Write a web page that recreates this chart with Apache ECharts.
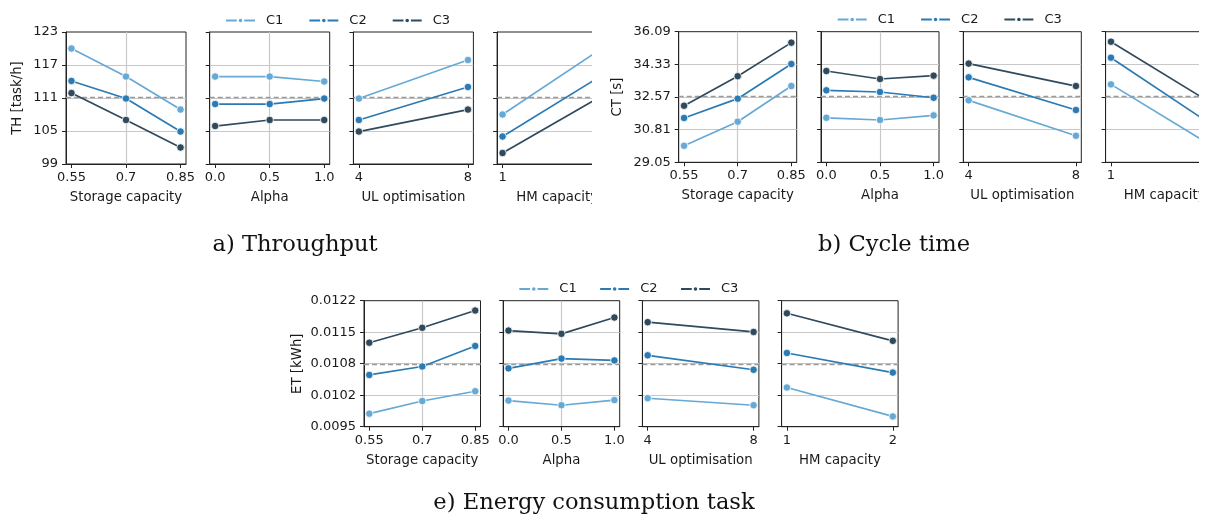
<!DOCTYPE html>
<html>
<head>
<meta charset="utf-8">
<title>Sensitivity plots</title>
<script src="https://cdn.jsdelivr.net/npm/echarts@6/dist/echarts.min.js"></script>
<style>
    body { margin: 0; background: #fff; }
    .wrap { position: absolute; overflow: hidden; }
</style>
</head>
<body>
<div class="wrap" style="left:0;top:0;width:592px;height:262px"><div id="chartA" style="width:660px;height:262px"></div></div>
<div class="wrap" style="left:600px;top:0;width:599px;height:262px"><div id="chartB" style="width:660px;height:262px"></div></div>
<div class="wrap" style="left:0;top:262px;width:1208px;height:261px"><div id="chartE" style="width:1208px;height:261px"></div></div>
<script>
// 因子及其取值
var factorNames = ['Storage capacity', 'Alpha', 'UL optimisation', 'HM capacity'];
var factorLevels = [[0.55, 0.7, 0.85], [0.0, 0.5, 1.0], [4, 8], [1, 2]];
var factorLabels = [['0.55', '0.7', '0.85'], ['0.0', '0.5', '1.0'], ['4', '8'], ['1', '2']];
var configNames = ['C1', 'C2', 'C3'];

// 吞吐量 TH (每个因子一组)
var thC1 = [[120.0, 114.9, 108.9], [114.9, 114.9, 114.0], [110.9, 117.9], [108.0, 121.2]];
var thC2 = [[114.1, 110.9, 104.9], [109.9, 109.9, 110.9], [107.0, 113.0], [104.0, 116.2]];
var thC3 = [[111.9, 107.0, 102.0], [105.9, 107.0, 107.0], [104.9, 108.9], [101.0, 112.4]];
var thTicks = [99, 105, 111, 117, 123];
var thTickLabels = ['99', '105', '111', '117', '123'];
var thRef = 111.1;

// 周期时间 CT
var ctC1 = [[29.94, 31.24, 33.16], [31.45, 31.33, 31.58], [32.39, 30.48], [33.25, 29.73]];
var ctC2 = [[31.44, 32.48, 34.35], [32.93, 32.84, 32.53], [33.63, 31.87], [34.69, 30.84]];
var ctC3 = [[32.10, 33.69, 35.50], [33.97, 33.54, 33.72], [34.37, 33.16], [35.55, 32.01]];
var ctTicks = [29.05, 30.81, 32.57, 34.33, 36.09];
var ctTickLabels = ['29.05', '30.81', '32.57', '34.33', '36.09'];
var ctRef = 32.63;

// 能耗 ET
var etC1 = [[0.00978, 0.01005, 0.01026], [0.01006, 0.00996, 0.01007], [0.01011, 0.00996], [0.01034, 0.00972]];
var etC2 = [[0.01061, 0.01079, 0.01123], [0.01075, 0.01096, 0.01092], [0.01103, 0.01072], [0.01108, 0.01066]];
var etC3 = [[0.01130, 0.01162, 0.01199], [0.01156, 0.01149, 0.01184], [0.01174, 0.01153], [0.01193, 0.01134]];
var etTicks = [0.0095, 0.010175, 0.01085, 0.011525, 0.0122];
var etTickLabels = ['0.0095', '0.0102', '0.0108', '0.0115', '0.0122'];
var etRef = 0.01084;

var colors = ['#67a9d5', '#2a7ab3', '#2f4a5d'];
var fontSans = 'DejaVu Sans';
var txt = '#1a1a1a';

function findLabel(list, labels, v) {
    for (var i = 0; i < list.length; i++) {
        if (Math.abs(list[i] - v) < 1e-9) return labels[i];
    }
    return '';
}

function buildOption(p) {
    var grids = [], xAxes = [], yAxes = [], series = [];
    for (var f = 0; f < 4; f++) {
        grids.push({
            left: p.left0 + f * p.step, top: p.top, width: p.width, height: p.height,
            show: true, borderColor: '#222', borderWidth: 1, containLabel: false
        });
        var lv = factorLevels[f];
        var span = lv[lv.length - 1] - lv[0];
        (function (lv, lb) {
            xAxes.push({
                type: 'value', gridIndex: f,
                min: lv[0] - 0.05 * span, max: lv[lv.length - 1] + 0.05 * span,
                name: factorNames[f], nameLocation: 'middle', nameGap: p.xNameGap,
                nameTextStyle: { fontFamily: fontSans, fontSize: 13.3, color: txt },
                axisLine: { show: true, onZero: false, lineStyle: { color: '#222', width: 1 } },
                axisTick: { show: true, length: 4, customValues: lv, lineStyle: { color: '#222' } },
                axisLabel: {
                    customValues: lv, margin: 7, fontFamily: fontSans, fontSize: 13, color: txt,
                    formatter: function (v) { return findLabel(lv, lb, v); }
                },
                splitLine: {
                    show: true, showMinLine: false, showMaxLine: false,
                    lineStyle: { color: '#c8c8c8', width: 1.2 }
                }
            });
        })(lv, factorLabels[f]);
        yAxes.push({
            type: 'value', gridIndex: f, min: p.yTicks[0], max: p.yTicks[p.yTicks.length - 1],
            name: f === 0 ? p.yName : '', nameLocation: 'middle', nameGap: p.yNameGap,
            nameTextStyle: { fontFamily: fontSans, fontSize: 13.3, color: txt },
            axisLine: { show: true, onZero: false, lineStyle: { color: '#222', width: 1 } },
            axisTick: { show: true, length: 4, customValues: p.yTicks, lineStyle: { color: '#222' } },
            axisLabel: {
                show: f === 0, customValues: p.yTicks, margin: 8,
                fontFamily: fontSans, fontSize: 13, color: txt,
                formatter: function (v) { return findLabel(p.yTicks, p.yLabels, v); }
            },
            splitLine: {
                show: true, showMinLine: false, showMaxLine: false,
                lineStyle: { color: '#c8c8c8', width: 1.2 }
            }
        });
        for (var c = 0; c < 3; c++) {
            var vals = p.values[c][f];
            var s = {
                name: configNames[c], type: 'line', xAxisIndex: f, yAxisIndex: f,
                data: lv.map(function (x, k) { return [x, vals[k]]; }),
                symbol: 'circle', symbolSize: 7.5,
                lineStyle: { color: colors[c], width: 1.7 },
                itemStyle: { color: colors[c], borderColor: '#fff', borderWidth: 0.8 },
                emphasis: { disabled: true },
                z: 3
            };
            if (c === 0) {
                s.markLine = {
                    silent: true, symbol: 'none', precision: 8, label: { show: false },
                    lineStyle: { color: '#9a9a9a', type: [5, 3], width: 1.4 },
                    data: [{ yAxis: p.ref }], z: 2
                };
            }
            series.push(s);
        }
    }
    return {
        animation: false,
        color: colors,
        legend: {
            data: configNames, left: p.legendLeft, top: p.legendTop,
            itemWidth: 29, itemHeight: 7, itemGap: p.legendGap,
            textStyle: { fontFamily: fontSans, fontSize: 13, color: txt, padding: [0, 0, 0, 6] }
        },
        grid: grids, xAxis: xAxes, yAxis: yAxes, series: series,
        graphic: [{
            type: 'text', x: p.titleX, y: p.titleY,
            style: {
                text: p.title, fill: '#111', font: '22.6px "DejaVu Serif"',
                textAlign: 'center', textVerticalAlign: 'middle'
            }
        }]
    };
}

var chartA = echarts.init(document.getElementById('chartA'));
chartA.setOption(buildOption({
    left0: 66, step: 143.7, width: 120, top: 32, height: 132,
    yTicks: thTicks, yLabels: thTickLabels, yName: 'TH [task/h]', yNameGap: 42, xNameGap: 27,
    values: [thC1, thC2, thC3], ref: thRef,
    legendLeft: 220, legendTop: 9, legendGap: 25,
    title: 'a) Throughput', titleX: 295, titleY: 245
}));

var chartB = echarts.init(document.getElementById('chartB'));
chartB.setOption(buildOption({
    left0: 78.7, step: 142.3, width: 118, top: 31.7, height: 130.6,
    yTicks: ctTicks, yLabels: ctTickLabels, yName: 'CT [s]', yNameGap: 55, xNameGap: 27,
    values: [ctC1, ctC2, ctC3], ref: ctRef,
    legendLeft: 231.7, legendTop: 8, legendGap: 25,
    title: 'b) Cycle time', titleX: 294, titleY: 245
}));

var chartE = echarts.init(document.getElementById('chartE'));
chartE.setOption(buildOption({
    left0: 364, step: 139.2, width: 116.5, top: 38.7, height: 126,
    yTicks: etTicks, yLabels: etTickLabels, yName: 'ET [kWh]', yNameGap: 60, xNameGap: 27,
    values: [etC1, etC2, etC3], ref: etRef,
    legendLeft: 513.3, legendTop: 15.5, legendGap: 22.5,
    title: 'e) Energy consumption task', titleX: 594, titleY: 241
}));
</script>
</body>
</html>
